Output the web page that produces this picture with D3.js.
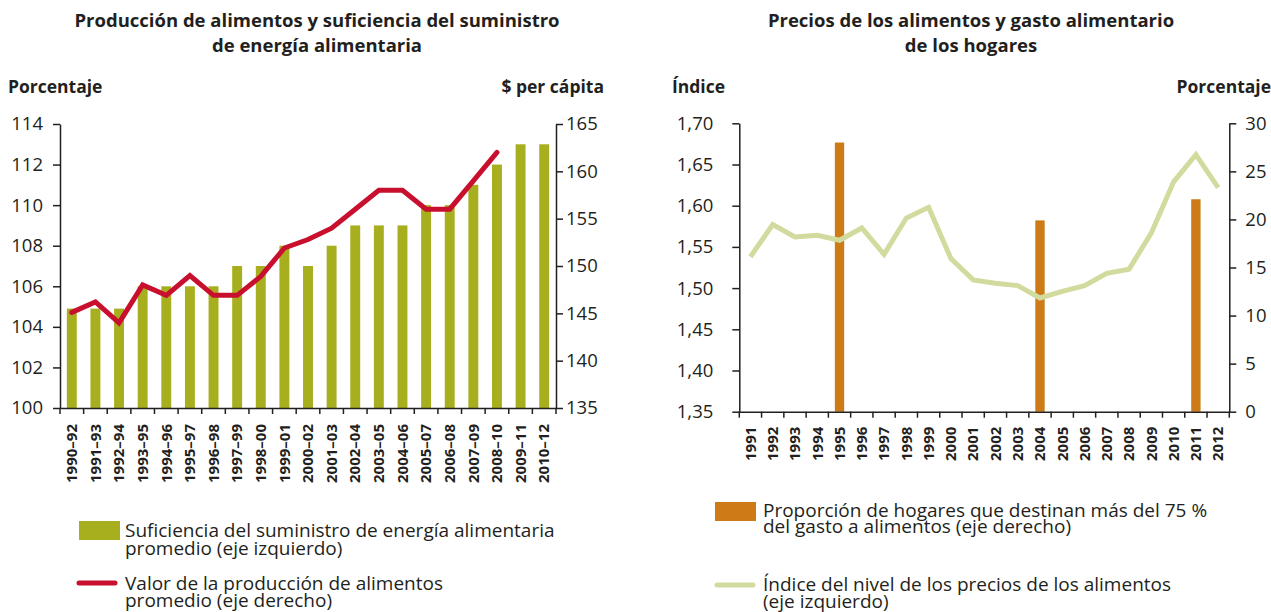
<!DOCTYPE html>
<html>
<head>
<meta charset="utf-8">
<script src="https://cdn.jsdelivr.net/npm/d3@7"></script>
<style>
  body { margin: 0; background: #fff; }
  svg text { font-family: "Open Sans", sans-serif; fill: #231f20; }
  .axis path, .axis line { stroke: #231f20; stroke-width: 1.5; }
</style>
</head>
<body>
<svg id="chart" width="1271" height="612"></svg>
<script>
// left panel data
const periods = ["1990–92", "1991–93", "1992–94", "1993–95", "1994–96", "1995–97", "1996–98",
  "1997–99", "1998–00", "1999–01", "2000–02", "2001–03", "2002–04", "2003–05", "2004–06",
  "2005–07", "2006–08", "2007–09", "2008–10", "2009–11", "2010–12"];
const suficiencia = [104.9, 104.9, 104.9, 106, 106, 106, 106, 107, 107, 108, 107, 108, 109, 109, 109,
  110, 110, 111, 112, 113, 113];
const produccion = [145.1, 146.2, 144.0, 148.0, 146.9, 149.0, 146.9, 146.9, 148.9, 151.9, 152.8, 154.0,
  156.0, 158.0, 158.0, 156.0, 156.0, 159.0, 162.0, null, null];
const leftTicksL = [100, 102, 104, 106, 108, 110, 112, 114];
const leftTicksR = [135, 140, 145, 150, 155, 160, 165];

// right panel data
const years = ["1991", "1992", "1993", "1994", "1995", "1996", "1997", "1998", "1999", "2000", "2001",
  "2002", "2003", "2004", "2005", "2006", "2007", "2008", "2009", "2010", "2011", "2012"];
const precioIndice = [1.538, 1.577, 1.562, 1.564, 1.558, 1.573, 1.541, 1.585, 1.598, 1.536, 1.510,
  1.506, 1.503, 1.488, 1.496, 1.503, 1.518, 1.523, 1.567, 1.629, 1.662, 1.622];
const hogares75 = [null, null, null, null, 28.0, null, null, null, null, null, null,
  null, null, 19.9, null, null, null, null, null, null, 22.1, null];
const rightTicksL = [1.35, 1.40, 1.45, 1.50, 1.55, 1.60, 1.65, 1.70];
const rightTicksR = [0, 5, 10, 15, 20, 25, 30];

const svg = d3.select("#chart");
const commaFmt = d => d3.format(".2f")(d).replace(".", ",");

function title(lines, cx) {
  lines.forEach((t, i) => {
    svg.append("text")
      .attr("x", cx).attr("y", 27 + i * 25)
      .attr("text-anchor", "middle")
      .style("font-size", "18.5px").style("font-weight", "bold")
      .text(t);
  });
}

function axisTitle(txt, x, anchor) {
  svg.append("text").attr("x", x).attr("y", 93).attr("text-anchor", anchor)
    .style("font-size", "17.5px").style("font-weight", "bold").text(txt);
}

function legendText(lines, x, ys) {
  lines.forEach((t, i) => {
    svg.append("text").attr("x", x).attr("y", ys[i]).style("font-size", "19px").text(t);
  });
}

function styleTicks(g) {
  g.selectAll(".tick text").style("font-size", "18.5px");
}

// ---------- left chart ----------
const x1 = d3.scaleBand().domain(periods).range([60, 556]);
const y1L = d3.scaleLinear().domain([100, 114]).range([408, 124]);
const y1R = d3.scaleLinear().domain([135, 165]).range([408, 124]);

title(["Producción de alimentos y suficiencia del suministro", "de energía alimentaria"], 317);
axisTitle("Porcentaje", 8, "start");
axisTitle("$ per cápita", 604, "end");

svg.selectAll(".barL")
  .data(periods)
  .enter()
  .append("rect")
  .attr("class", "barL")
  .attr("x", (d) => x1(d) + x1.bandwidth() * 0.29)
  .attr("width", x1.bandwidth() * 0.42)
  .attr("y", (d, i) => y1L(suficiencia[i]))
  .attr("height", (d, i) => 408 - y1L(suficiencia[i]))
  .attr("fill", "#a8af1e");

const line1 = d3.line()
  .defined((d) => d.v != null)
  .x((d) => x1(d.p) + x1.bandwidth() / 2)
  .y((d) => y1R(d.v));

svg.append("path")
  .datum(periods.map((p, i) => ({ p, v: produccion[i] })))
  .attr("d", line1)
  .attr("fill", "none")
  .attr("stroke", "#c8102e")
  .attr("stroke-width", 5)
  .attr("stroke-linejoin", "miter")
  .attr("stroke-linecap", "round");

svg.append("g").attr("class", "axis").attr("transform", "translate(60,0)")
  .call(d3.axisLeft(y1L).tickValues(leftTicksL).tickSize(7).tickSizeOuter(0).tickPadding(10))
  .call(styleTicks);
svg.append("g").attr("class", "axis").attr("transform", "translate(556,0)")
  .call(d3.axisRight(y1R).tickValues(leftTicksR).tickSize(7).tickSizeOuter(0).tickPadding(3))
  .call(styleTicks);

const xAxis1 = svg.append("g").attr("class", "axis").attr("transform", "translate(0,408)")
  .call(d3.axisBottom(x1).tickSize(0).tickSizeOuter(0));
xAxis1.selectAll(".tick text")
  .attr("transform", "rotate(-90)")
  .attr("x", -16).attr("y", 0).attr("dy", "0.35em")
  .attr("text-anchor", "end")
  .style("font-size", "15px").style("font-weight", "bold");
xAxis1.selectAll(".bnd")
  .data(d3.range(periods.length + 1))
  .enter()
  .append("line")
  .attr("x1", (i) => 60 + i * x1.step()).attr("x2", (i) => 60 + i * x1.step())
  .attr("y1", 0).attr("y2", 6)
  .attr("stroke", "#231f20").attr("stroke-width", 1.5);

// left legend
svg.append("rect").attr("x", 79).attr("y", 521).attr("width", 41).attr("height", 19).attr("fill", "#a8af1e");
legendText(["Suficiencia del suministro de energía alimentaria", "promedio (eje izquierdo)"], 125, [537, 555]);
svg.append("line").attr("x1", 79).attr("x2", 115).attr("y1", 583).attr("y2", 583)
  .attr("stroke", "#c8102e").attr("stroke-width", 5).attr("stroke-linecap", "round");
legendText(["Valor de la producción de alimentos", "promedio (eje derecho)"], 125, [590, 607]);

// ---------- right chart ----------
const x2 = d3.scaleBand().domain(years).range([739.3, 1229.3]);
const y2L = d3.scaleLinear().domain([1.35, 1.70]).range([411.7, 123.3]);
const y2R = d3.scaleLinear().domain([0, 30]).range([411.7, 123.3]);

title(["Precios de los alimentos y gasto alimentario", "de los hogares"], 971);
axisTitle("Índice", 672, "start");
axisTitle("Porcentaje", 1271, "end");

svg.selectAll(".barR")
  .data(years.filter((d, i) => hogares75[i] != null))
  .enter()
  .append("rect")
  .attr("class", "barR")
  .attr("x", (d) => x2(d) + x2.bandwidth() * 0.29)
  .attr("width", x2.bandwidth() * 0.42)
  .attr("y", (d) => y2R(hogares75[years.indexOf(d)]))
  .attr("height", (d) => 411.7 - y2R(hogares75[years.indexOf(d)]))
  .attr("fill", "#cc7b16");

const line2 = d3.line()
  .x((d) => x2(d.y) + x2.bandwidth() / 2)
  .y((d) => y2L(d.v));

svg.append("path")
  .datum(years.map((y, i) => ({ y, v: precioIndice[i] })))
  .attr("d", line2)
  .attr("fill", "none")
  .attr("stroke", "#d3da9e")
  .attr("stroke-width", 5)
  .attr("stroke-linejoin", "miter");

svg.append("g").attr("class", "axis").attr("transform", "translate(739.3,0)")
  .call(d3.axisLeft(y2L).tickValues(rightTicksL).tickFormat(commaFmt).tickSize(7).tickSizeOuter(0).tickPadding(19))
  .call(styleTicks);
svg.append("g").attr("class", "axis").attr("transform", "translate(1229.3,0)")
  .call(d3.axisRight(y2R).tickValues(rightTicksR).tickSize(7).tickSizeOuter(0).tickPadding(9))
  .call(styleTicks);

const xAxis2 = svg.append("g").attr("class", "axis").attr("transform", "translate(0,411.7)")
  .call(d3.axisBottom(x2).tickSize(0).tickSizeOuter(0));
xAxis2.selectAll(".tick text")
  .attr("transform", "rotate(-90)")
  .attr("x", -15).attr("y", 0).attr("dy", "0.35em")
  .attr("text-anchor", "end")
  .style("font-size", "15px").style("font-weight", "bold");
xAxis2.selectAll(".bnd")
  .data(d3.range(years.length + 1))
  .enter()
  .append("line")
  .attr("x1", (i) => 739.3 + i * x2.step()).attr("x2", (i) => 739.3 + i * x2.step())
  .attr("y1", 0).attr("y2", 6)
  .attr("stroke", "#231f20").attr("stroke-width", 1.5);

// right legend
svg.append("rect").attr("x", 715).attr("y", 502).attr("width", 41).attr("height", 19).attr("fill", "#cc7b16");
legendText(["Proporción de hogares que destinan más del 75 %", "del gasto a alimentos (eje derecho)"], 763, [517, 533]);
svg.append("line").attr("x1", 717).attr("x2", 753).attr("y1", 585).attr("y2", 585)
  .attr("stroke", "#d3da9e").attr("stroke-width", 5).attr("stroke-linecap", "round");
legendText(["Índice del nivel de los precios de los alimentos", "(eje izquierdo)"], 763, [591, 608]);
</script>
</body>
</html>
